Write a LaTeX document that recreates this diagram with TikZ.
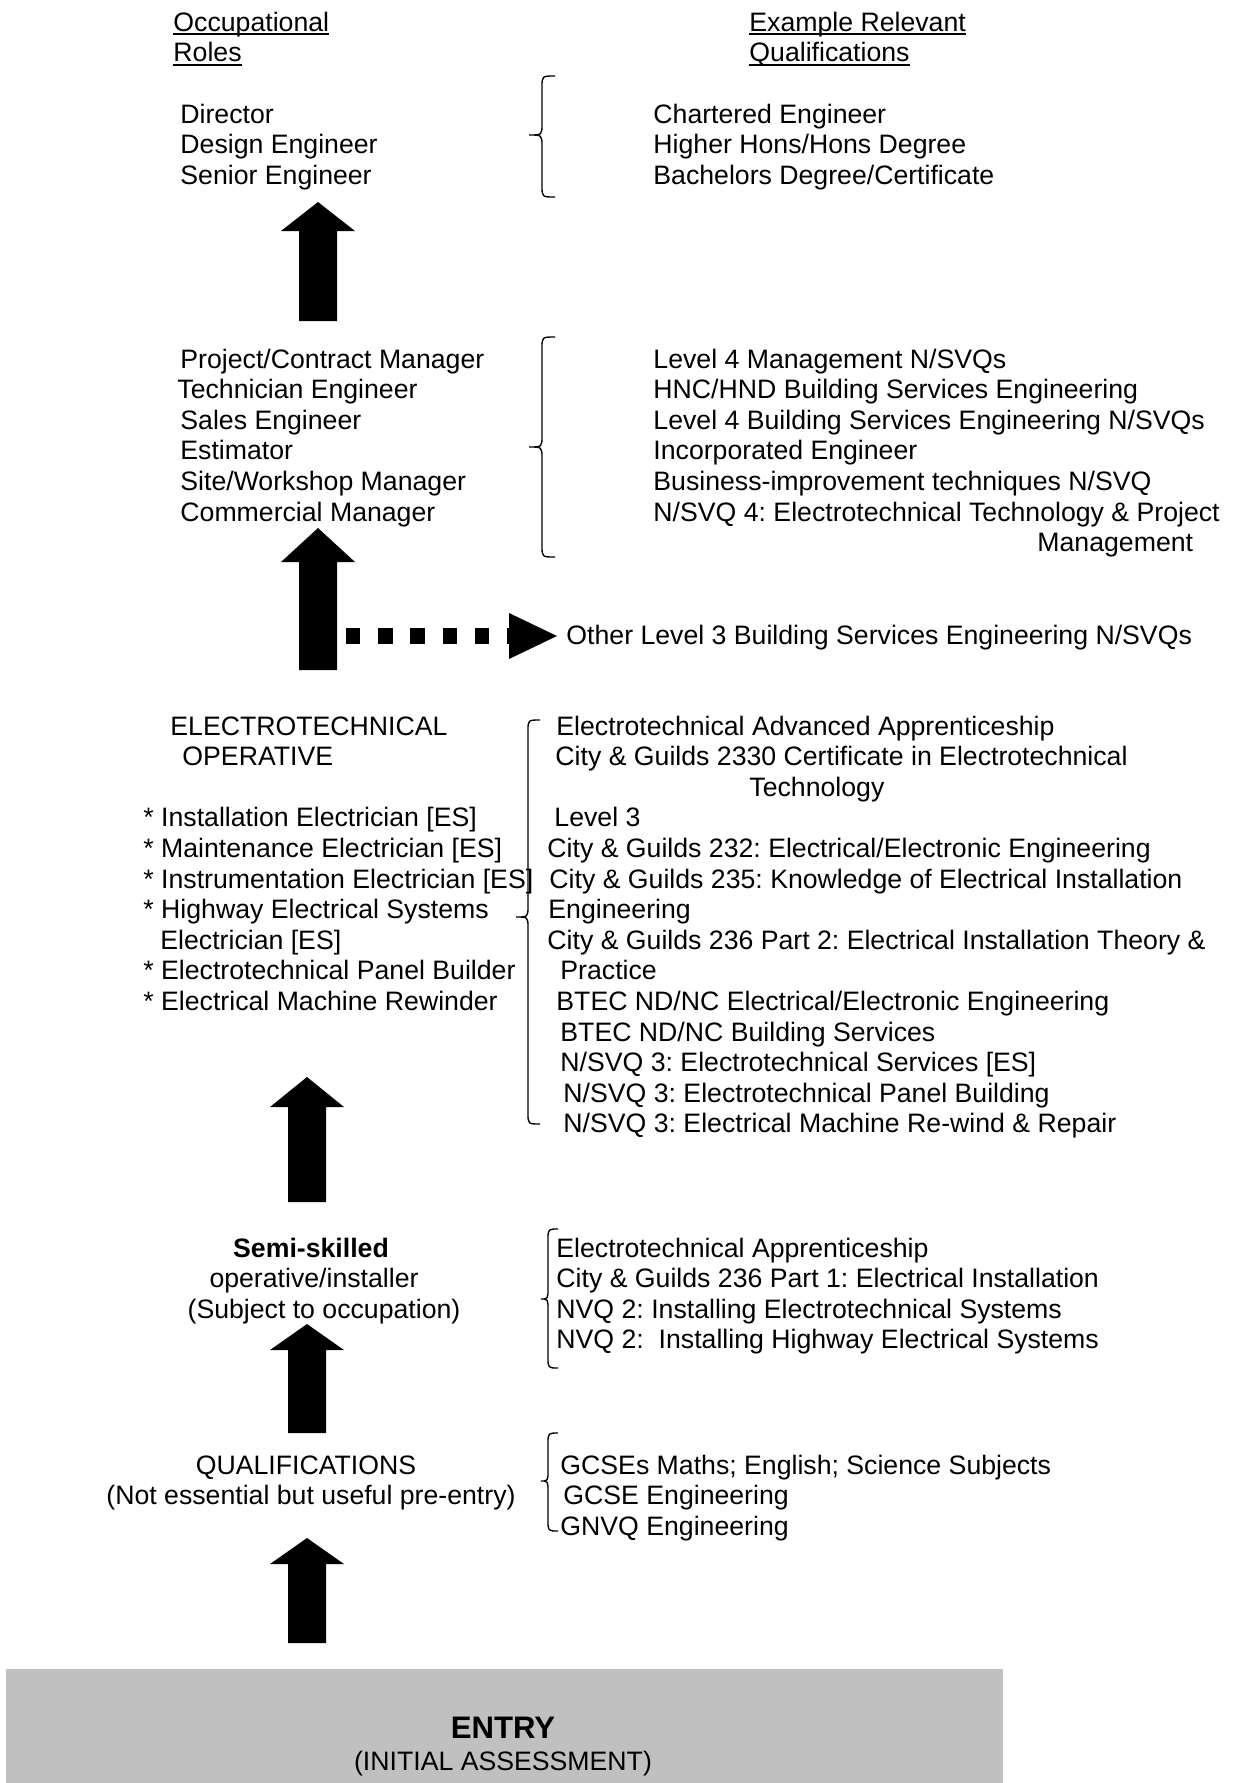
\documentclass[tikz,border=0pt]{standalone}
\usepackage{fontspec}
\setmainfont{Liberation Sans}
\usepackage{xcolor}
\usetikzlibrary{calc}
\frenchspacing

\definecolor{entrygray}{RGB}{192,192,192}

% underline as Word draws it
\newcommand\hdul[1]{\setbox0\hbox{#1}\rlap{\rule[-1.8pt]{\wd0}{0.8pt}}\box0}

% block arrow: bottom, tip, head length
\newcommand\blockarrow[3]{%
  \fill ($(#1)+(-19,0)$) -- ($(#2)+(-19,#3)$) -- ($(#2)+(-37,#3)$) -- (#2)
    -- ($(#2)+(37,#3)$) -- ($(#2)+(19,#3)$) -- ($(#1)+(19,0)$) -- cycle;}

% curly brace: tip x, arm x, end x, top, middle, bottom
\newcommand\qbrace[6]{%
  \draw[bracel] (#3,#4) .. controls (#2,#4) .. (#2,#4+11) -- (#2,#5-11)
    .. controls (#2,#5) .. (#1,#5) .. controls (#2,#5) .. (#2,#5+11)
    -- (#2,#6-11) .. controls (#2,#6) .. (#3,#6);}

\begin{document}
\begin{tikzpicture}[x=0.45pt,y=-0.45pt,
  every node/.style={inner sep=0pt, font=\fontsize{12pt}{13.8pt}\selectfont\frenchspacing},
  lbl/.style={anchor=base west},
  mid/.style={anchor=base},
  bracel/.style={line width=0.6pt},
  dotconn/.style={line width=7.6pt, dash pattern=on 6.5pt off 8pt}]
\useasboundingbox (0,0) rectangle (1232,1783);
\fill[entrygray] (6,1669) rectangle (1003,1783);

% headings
\node[lbl] (occ) at (173,31) {\hdul{Occupational}};
\node[lbl] (roles) at (173,61.6) {\hdul{Roles}};
\node[lbl] (exrel) at (749,31) {\hdul{Example Relevant}};
\node[lbl] (quals) at (749,61.6) {\hdul{Qualifications}};

% senior level
\foreach \t [count=\i from 0] in {Director, Design Engineer, Senior Engineer}
  \node[lbl] (snr\i) at (180,123+30.6*\i) {\t};
\foreach \t [count=\i from 0] in {Chartered Engineer, {Higher Hons/Hons Degree},
    {Bachelors Degree/Certificate}}
  \node[lbl] (snrq\i) at (653,123+30.6*\i) {\t};
\qbrace{529}{542}{555}{76}{135}{197}

% manager level
\foreach \x/\t [count=\i from 0] in {180/{Project/Contract Manager},
    177/Technician Engineer, 180/Sales Engineer, 180/Estimator,
    180/{Site/Workshop Manager}, 180/Commercial Manager}
  \node[lbl] (mgr\i) at (\x,368+30.6*\i) {\t};
\foreach \t [count=\i from 0] in {{Level 4 Management N/SVQs},
    {HNC/HND Building Services Engineering},
    {Level 4 Building Services Engineering N/SVQs}, Incorporated Engineer,
    {Business-improvement techniques N/SVQ},
    {N/SVQ 4: Electrotechnical Technology \& Project}}
  \node[lbl] (mgrq\i) at (653,368+30.6*\i) {\t};
\node[lbl] (mgrq6) at (1037,551.6) {Management};
\qbrace{529}{542}{555}{337}{447}{557}

\node[lbl] (other) at (566,644) {Other Level 3 Building Services Engineering N/SVQs};

% operative level
\foreach \r/\x/\t in {0/170/ELECTROTECHNICAL, 1/182/OPERATIVE,
    3/143/{* Installation Electrician [ES]}, 4/143/{* Maintenance Electrician [ES]},
    5/143/{* Instrumentation Electrician [ES]}, 6/143/{* Highway Electrical Systems},
    7/160/{Electrician [ES]}, 8/143/{* Electrotechnical Panel Builder},
    9/143/{* Electrical Machine Rewinder}}
  \node[lbl] (op\r) at (\x,735+30.6*\r) {\t};
\foreach \r/\x/\t in {0/556/{Electrotechnical Advanced Apprenticeship},
    1/555/{City \& Guilds 2330 Certificate in Electrotechnical},
    2/749/Technology, 3/554/Level 3,
    4/547/{City \& Guilds 232: Electrical/Electronic Engineering},
    5/549/{City \& Guilds 235: Knowledge of Electrical Installation},
    6/548/Engineering,
    7/547/{City \& Guilds 236 Part 2: Electrical Installation Theory \&},
    8/560/Practice,
    9/556/{BTEC ND/NC Electrical/Electronic Engineering},
    10/560/{BTEC ND/NC Building Services},
    11/560/{N/SVQ 3: Electrotechnical Services [ES]},
    12/563/{N/SVQ 3: Electrotechnical Panel Building},
    13/563/{N/SVQ 3: Electrical Machine Re-wind \& Repair}}
  \node[lbl] (opq\r) at (\x,735+30.6*\r) {\t};
\qbrace{516}{528}{540}{720}{917}{1124}

% semi-skilled
\node[mid] (semi) at (311,1257) {\textbf{Semi-skilled}};
\node[mid] (semi1) at (314,1287.6) {operative/installer};
\node[mid] (semi2) at (324,1318.2) {(Subject to occupation)};
\foreach \t [count=\i from 0] in {Electrotechnical Apprenticeship,
    {City \& Guilds 236 Part 1: Electrical Installation},
    {NVQ 2: Installing Electrotechnical Systems},
    {NVQ 2:\ \ Installing Highway Electrical Systems}}
  \node[lbl] (semiq\i) at (556,1257+30.6*\i) {\t};
\qbrace{541}{548}{558}{1229}{1299}{1368}

% pre-entry
\node[mid] (qual) at (306,1474) {QUALIFICATIONS};
\node[mid] (qual1) at (311,1504.6) {(Not essential but useful pre-entry)};
\foreach \x/\t [count=\i from 0] in {560/{GCSEs Maths; English; Science Subjects},
    563/GCSE Engineering, 560/GNVQ Engineering}
  \node[lbl] (qualq\i) at (\x,1474+30.6*\i) {\t};
\qbrace{541}{548}{558}{1433}{1481}{1531}

% entry box
\node[mid, font=\fontsize{14pt}{16pt}\selectfont\bfseries] (entry) at (503,1738) {ENTRY};
\node[mid] (assess) at (503,1770) {(INITIAL ASSESSMENT)};

% arrows
\coordinate (a1b) at (318,321);  \coordinate (a1t) at (318,202);
\coordinate (a2b) at (318,670);  \coordinate (a2t) at (318,528);
\coordinate (a3b) at (307,1202); \coordinate (a3t) at (307,1077);
\coordinate (a4b) at (307,1433); \coordinate (a4t) at (307,1324);
\coordinate (a5b) at (307,1643); \coordinate (a5t) at (307,1538);
\blockarrow{a1b}{a1t}{29}
\blockarrow{a2b}{a2t}{34}
\blockarrow{a3b}{a3t}{30}
\blockarrow{a4b}{a4t}{26}
\blockarrow{a5b}{a5t}{26}

\coordinate (dotstart) at (346,636);
\coordinate (dothead) at (509,636);
\draw[dotconn] (dotstart) -- (dothead);
\fill (dothead) ++(0,-23) -- ++(48,23) -- ++(-48,23) -- cycle;
\end{tikzpicture}
\end{document}
